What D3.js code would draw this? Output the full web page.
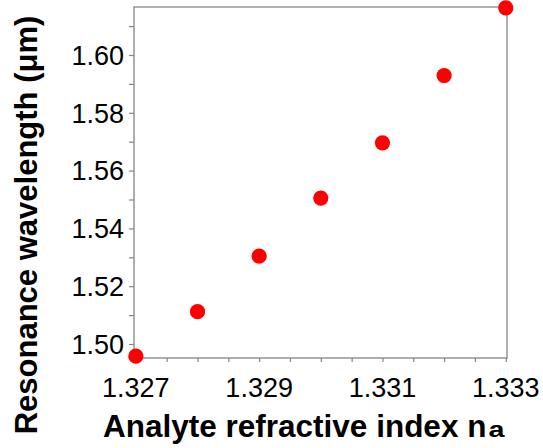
<!DOCTYPE html>
<html><head><meta charset="utf-8">
<script src="https://cdn.jsdelivr.net/npm/d3@7"></script>
<style>body{margin:0;background:#fff}svg{display:block}text{font-family:Arial,"Liberation Sans",sans-serif}</style>
</head><body>
<script>
const refractiveIndex = [1.327, 1.328, 1.329, 1.330, 1.331, 1.332, 1.333];
const resonanceWavelength = [1.4958, 1.5112, 1.5304, 1.5505, 1.5696, 1.5929, 1.6163];
const xTickLabels = [1.327, 1.329, 1.331, 1.333];
const yTickLabels = [1.50, 1.52, 1.54, 1.56, 1.58, 1.60];

const W = 543, H = 448;
const L = 134, R = 507, T = 7, B = 358;
const svg = d3.select("body").append("svg").attr("width", W).attr("height", H);

const x = d3.scaleLinear().domain([1.32697, 1.33302]).range([L, R]);
const y = d3.scaleLinear().domain([1.49516, 1.61661]).range([B, T]);
const grey = "#858585";

// frame
svg.append("rect").attr("x", L).attr("y", T).attr("width", R - L).attr("height", B - T)
  .attr("fill", "none").attr("stroke", grey).attr("stroke-width", 1.3);

// x axis
const xMinor = d3.range(0, 13).map(i => 1.327 + i * 0.0005);
const xAx = svg.append("g").attr("transform", `translate(0,${B})`)
  .call(d3.axisBottom(x).tickValues(xMinor).tickSize(4).tickFormat(""));
xAx.select(".domain").remove();
xAx.selectAll("line").attr("stroke", grey).attr("stroke-width", 1.2);
svg.append("g").selectAll("text").data(xTickLabels).join("text")
  .attr("x", d => x(d)).attr("y", 397).attr("text-anchor", "middle")
  .attr("font-size", 27).attr("fill", "#000").text(d => d3.format(".3f")(d));

// y axis
const yMinor = d3.range(0, 12).map(i => 1.50 + i * 0.01);
const yAx = svg.append("g").attr("transform", `translate(${L},0)`)
  .call(d3.axisLeft(y).tickValues(yMinor).tickSize(5).tickFormat(""));
yAx.select(".domain").remove();
yAx.selectAll("line").attr("stroke", grey).attr("stroke-width", 1.2);
svg.append("g").selectAll("text").data(yTickLabels).join("text")
  .attr("x", 124).attr("y", d => y(d)).attr("dy", "0.36em").attr("text-anchor", "end")
  .attr("font-size", 27).attr("fill", "#000").text(d => d3.format(".2f")(d));

// points
svg.append("g").selectAll("circle").data(refractiveIndex).join("circle")
  .attr("cx", d => x(d)).attr("cy", (d, i) => y(resonanceWavelength[i]))
  .attr("r", 7.6).attr("fill", "#ff0000");

// titles
const xt = svg.append("text").attr("x", 103).attr("y", 437)
  .attr("font-size", 31.5).attr("font-weight", "bold").attr("fill", "#000")
  .text("Analyte refractive index n");
const xtEnd = 103 + xt.node().getComputedTextLength();
svg.append("text").attr("x", xtEnd + 2).attr("y", 437)
  .attr("font-size", 22).attr("font-weight", "bold").attr("fill", "#000")
  .attr("textLength", 16).attr("lengthAdjust", "spacingAndGlyphs").text("a");

svg.append("text").attr("transform", "translate(37,225) rotate(-90)")
  .attr("text-anchor", "middle").attr("font-size", 31).attr("font-weight", "bold")
  .attr("fill", "#000").text("Resonance wavelength (μm)");
</script>
</body></html>
